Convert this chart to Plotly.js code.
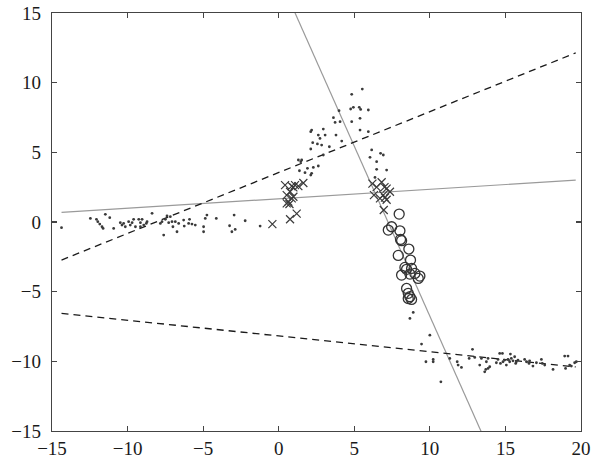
<!DOCTYPE html>
<html>
<head>
<meta charset="utf-8">
<script src="https://cdn.plot.ly/plotly-3.0.1.min.js"></script>
<style>html,body{margin:0;padding:0;background:#fff;}#chart{width:592px;height:460px;}</style>
</head>
<body>
<div id="chart"></div>
<script>
// ---- data ----
var dotX = [-14.37,-12.46,-12.06,-11.97,-11.84,-11.69,-11.62,-11.47,-11.18,-10.92,-10.48,-10.37,-10.26,-10.15,-9.93,-9.82,-9.70,-9.60,-9.48,-9.26,-9.15,-9.04,-9.15,-8.93,-8.76,-8.71,-8.38,-7.83,-7.72,-7.61,-7.50,-7.39,-7.28,-7.17,-7.06,-7.00,-6.84,-6.73,-6.62,-6.29,-6.25,-5.96,-5.90,-5.74,-5.52,-4.97,-4.97,-4.86,-4.75,-4.13,-3.25,-3.10,-2.95,-2.88,-2.22,-1.23,
  5.53,4.83,4.76,4.94,5.33,5.42,5.93,3.99,3.62,3.73,4.06,4.83,5.38,2.18,2.12,2.95,2.62,3.07,2.73,3.79,5.38,5.93,4.17,2.25,2.56,2.84,3.35,2.12,2.95,6.15,6.74,6.92,6.04,1.30,1.52,1.46,6.48,2.62,2.29,1.90,1.37,1.74,2.18,2.12,6.48,7.14,6.37,
  8.90,8.68,
  10.00,9.45,9.74,10.22,10.22,10.73,11.32,11.81,11.87,12.09,12.60,12.82,12.97,13.30,13.41,13.70,13.63,13.85,13.96,13.74,13.85,14.40,14.51,14.62,14.67,14.80,14.84,14.95,15.06,15.17,15.28,15.33,15.39,15.50,15.61,15.68,15.72,15.83,16.27,16.39,16.56,16.60,16.82,17.05,17.38,17.44,17.60,18.15,18.92,18.98,19.14,19.25,19.36,19.58,19.69];
var dotY = [-0.41,0.26,0.19,0.02,-0.15,-0.34,-0.46,0.55,0.31,-0.46,-0.05,-0.22,-0.10,-0.34,0.02,-0.22,-0.05,0.19,-0.34,0.19,-0.05,0.19,-0.34,-0.22,-0.10,0.02,0.62,-0.10,0.02,-0.94,0.19,0.43,-0.05,0.38,0.02,-0.34,0.02,-0.70,-0.10,0.14,-0.29,-0.10,0.19,-0.15,-0.22,-0.70,-0.34,0.26,0.50,0.26,-0.27,-0.70,0.50,-0.53,0.09,-0.29,
  9.54,9.16,8.11,8.23,8.23,8.08,8.04,7.99,7.49,7.15,7.20,7.20,7.44,6.60,6.48,6.67,6.24,6.24,6.00,6.24,6.60,6.48,5.81,5.69,5.60,5.52,5.40,5.24,4.81,5.17,4.93,4.81,4.64,4.45,4.45,4.33,4.33,4.02,3.92,3.85,3.68,3.54,3.49,3.37,3.78,3.73,3.20,
  -6.49,-6.92,
  -8.12,-8.76,-10.03,-9.86,-10.03,-11.47,-9.79,-10.03,-10.27,-10.44,-9.79,-9.14,-9.72,-10.27,-9.79,-10.58,-10.75,-10.51,-10.39,-10.03,-9.79,-10.10,-9.86,-9.43,-10.15,-9.43,-10.03,-9.91,-10.27,-9.86,-10.03,-9.48,-9.79,-9.96,-9.67,-10.15,-10.03,-9.91,-9.86,-10.03,-10.15,-9.96,-10.34,-10.10,-9.86,-10.15,-10.27,-10.58,-9.62,-10.51,-9.62,-10.27,-10.34,-10.10,-10.03];

var crossX = [0.42,0.86,1.08,1.30,1.63,0.97,0.53,0.75,0.86,0.64,0.53,0.97,0.71,1.19,0.75,-0.42,
  6.20,6.48,6.81,7.00,7.14,7.36,6.30,6.70,6.92,7.03,7.14,6.95];
var crossY = [2.65,2.58,2.65,2.58,2.80,2.49,1.93,2.17,1.70,1.46,1.34,1.81,1.29,0.60,0.20,-0.15,
  2.75,2.50,2.85,2.50,2.40,2.17,1.93,1.70,1.93,1.75,1.60,0.86];

var circleX = [7.97,7.47,7.25,8.02,8.06,8.13,8.61,7.91,8.72,8.35,8.46,8.79,9.01,8.13,8.68,9.34,9.23,8.46,8.57,8.68,8.79,8.57];
var circleY = [0.57,-0.34,-0.58,-0.63,-1.25,-1.34,-1.94,-2.40,-2.73,-3.26,-3.40,-3.33,-3.69,-3.81,-3.74,-3.88,-4.05,-4.77,-5.12,-5.36,-5.56,-5.49];

// fitted lines: slope / intercept, drawn over the data x-span
var lineNames = ["upperDashed","lowerDashed","shallowGray","steepGray"];
var lineSlope = [0.437, -0.113, 0.068, -2.44];
var lineIntercept = [3.55, -8.18, 1.67, 17.64];
var lineSpan = [-14.37, 19.65];

var xTicks = [-15,-10,-5,0,5,10,15,20];
var yTicks = [-15,-10,-5,0,5,10,15];

// ---- drawing ----
function lineTrace(i, color, dash, width) {
  var xs = lineSpan.slice();
  var ys = xs.map(function (x) { return lineSlope[i] * x + lineIntercept[i]; });
  return {x: xs, y: ys, mode: 'lines', type: 'scatter', hoverinfo: 'skip',
          line: {color: color, dash: dash, width: width}, showlegend: false};
}
var traces = [
  lineTrace(3, '#9a9a9a', 'solid', 1.2),
  lineTrace(2, '#9a9a9a', 'solid', 1.2),
  lineTrace(0, '#1a1a1a', '7px,5px', 1.3),
  lineTrace(1, '#1a1a1a', '7px,5px', 1.3),
  {x: dotX, y: dotY, mode: 'markers', type: 'scatter', showlegend: false,
   marker: {symbol: 'circle', size: 2.8, color: '#3a3a3a'}},
  {x: crossX, y: crossY, mode: 'markers', type: 'scatter', showlegend: false,
   marker: {symbol: 'x-thin-open', size: 8, color: '#3a3a3a', line: {color: '#3a3a3a', width: 1.2}}},
  {x: circleX, y: circleY, mode: 'markers', type: 'scatter', showlegend: false,
   marker: {symbol: 'circle-open', size: 10, color: '#333', line: {color: '#333', width: 1.3}}}
];

var axisCommon = {
  showgrid: false, zeroline: false, showline: true, mirror: 'ticks',
  linecolor: '#444', linewidth: 1.2, ticks: 'inside', ticklen: 5, tickwidth: 1.2, tickcolor: '#444',
  tickfont: {family: "'Liberation Serif', 'Times New Roman', Tinos, 'Nimbus Roman', Times, serif", size: 19, color: '#1a1a1a'},
  fixedrange: true
};
var layout = {
  width: 592, height: 460,
  margin: {l: 52, r: 11, t: 13, b: 29, pad: 0},
  paper_bgcolor: '#fff', plot_bgcolor: '#fff',
  xaxis: Object.assign({}, axisCommon, {range: [-15, 20], tickvals: xTicks, ticklabelstandoff: 0}),
  yaxis: Object.assign({}, axisCommon, {range: [-15, 15], tickvals: yTicks, ticklabelstandoff: 6}),
  showlegend: false
};
Plotly.newPlot('chart', traces, layout, {displayModeBar: false, staticPlot: true});
</script>
</body>
</html>
